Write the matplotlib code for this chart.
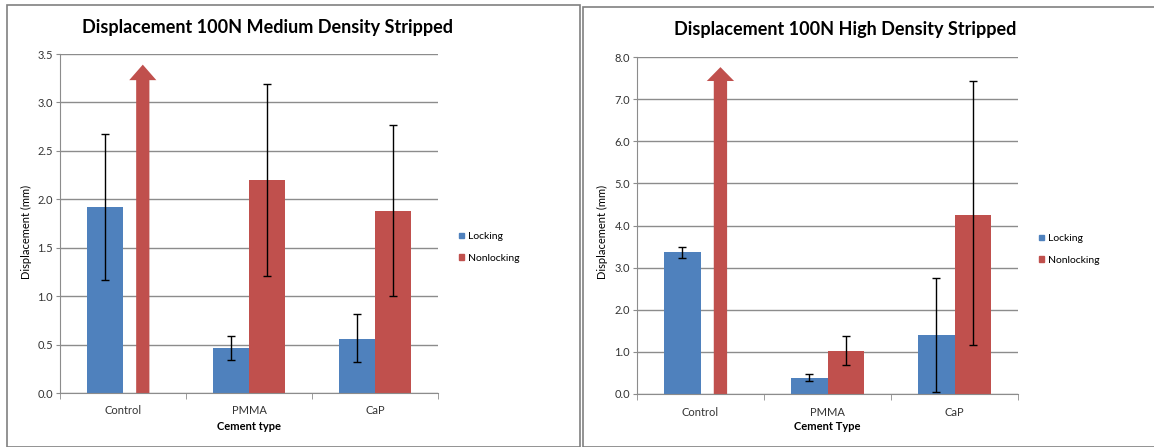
import matplotlib.pyplot as plt
import numpy as np
from matplotlib.patches import FancyArrow, Rectangle, Patch

plt.rcParams['font.family'] = ['Lato', 'DejaVu Sans']

# data
categories = ['Control', 'PMMA', 'CaP']
series = ['Locking', 'Nonlocking']

med_locking = [1.92, 0.46, 0.56]
med_locking_lo = [1.17, 0.34, 0.32]
med_locking_hi = [2.67, 0.59, 0.82]
med_nonlocking = [np.nan, 2.20, 1.88]
med_nonlocking_lo = [np.nan, 1.21, 1.00]
med_nonlocking_hi = [np.nan, 3.19, 2.77]

high_locking = [3.36, 0.38, 1.39]
high_locking_lo = [3.24, 0.31, 0.04]
high_locking_hi = [3.50, 0.47, 2.75]
high_nonlocking = [np.nan, 1.03, 4.26]
high_nonlocking_lo = [np.nan, 0.68, 1.16]
high_nonlocking_hi = [np.nan, 1.38, 7.42]

# off-scale control nonlocking arrows: tip value, head base value
arrow_tip = [3.39, 7.76]
arrow_base = [3.23, 7.43]

blue = '#4F81BD'
red = '#C0504D'
grid_c = '#8C8C8C'

fig = plt.figure(figsize=(11.54, 4.47), dpi=100)
W, H = 1154, 447


def box(x0, y0, x1, y1):
    return [x0 / W, 1 - y1 / H, (x1 - x0) / W, (y1 - y0) / H]


# panel borders
fig.patches.append(Rectangle((7 / W, 0), 573 / W, 1 - 5 / H, transform=fig.transFigure,
                             fill=False, edgecolor='#808080', lw=1.2))
fig.patches.append(Rectangle((583 / W, 0), 575 / W, 1 - 7 / H, transform=fig.transFigure,
                             fill=False, edgecolor='#808080', lw=1.2))


def panel(rect, title, xlabel, ymax, ystep, fmt, loc, loc_lo, loc_hi,
          non, non_lo, non_hi, tip, base, title_x, title_y, leg_x, leg_y,
          ylab_x, xlab_y):
    ax = fig.add_axes(box(*rect))
    x = np.arange(len(categories))
    bw = 0.286
    loc = np.array(loc)
    non = np.array(non)
    ax.bar(x - bw / 2, loc, bw, color=blue, zorder=2)
    ax.bar(x + bw / 2, non, bw, color=red, zorder=2)
    ek = dict(fmt='none', ecolor='black', elinewidth=1, capsize=3, capthick=1, zorder=3)
    ax.errorbar(x - bw / 2, loc, yerr=[loc - np.array(loc_lo), np.array(loc_hi) - loc], **ek)
    ax.errorbar(x + bw / 2, non, yerr=[non - np.array(non_lo), np.array(non_hi) - non], **ek)
    ax.add_patch(FancyArrow(0.157, 0, 0, tip, width=0.105, head_width=0.215,
                            head_length=tip - base, length_includes_head=True,
                            color=red, lw=0, zorder=2))
    ax.set_xlim(-0.5, 2.5)
    ax.set_ylim(0, ymax)
    ax.set_yticks(np.arange(0, ymax + ystep / 2, ystep))
    ax.yaxis.set_major_formatter(plt.FuncFormatter(lambda v, p: fmt.format(v)))
    ax.set_xticks(x)
    ax.set_xticklabels(categories)
    ax.set_xticks([-0.5, 0.5, 1.5, 2.5], minor=True)
    ax.tick_params(axis='x', which='major', length=0, labelsize=8, pad=9, colors='#333333')
    ax.tick_params(axis='x', which='minor', length=4, color=grid_c, direction='out')
    ax.tick_params(axis='y', length=3, color=grid_c, labelsize=8, labelcolor='#333333', pad=2)
    ax.grid(axis='y', color=grid_c, lw=1, zorder=0)
    for s in ['top', 'right']:
        ax.spines[s].set_visible(False)
    for s in ['left', 'bottom']:
        ax.spines[s].set_color(grid_c)
    fig.text(title_x / W, 1 - title_y / H, title, ha='center', va='center',
             fontsize=13, fontweight='bold')
    fig.text(ylab_x / W, 1 - 232 / H, 'Displacement (mm)', rotation=90,
             ha='center', va='center', fontsize=8)
    fig.text((rect[0] + rect[2]) / 2 / W, 1 - xlab_y / H, xlabel, ha='center',
             va='center', fontsize=8, fontweight='bold')
    handles = [Patch(color=blue), Patch(color=red)]
    fig.legend(handles, series, loc='upper left',
               bbox_to_anchor=(leg_x / W, 1 - leg_y / H), frameon=False,
               fontsize=7.5, handlelength=0.5, handleheight=0.5,
               handletextpad=0.35, labelspacing=1.2, borderpad=0)


panel((60, 54, 438, 393), 'Displacement 100N Medium Density Stripped', 'Cement type',
      3.5, 0.5, '{:.1f}', med_locking, med_locking_lo, med_locking_hi,
      med_nonlocking, med_nonlocking_lo, med_nonlocking_hi,
      arrow_tip[0], arrow_base[0], 267, 28, 454, 227, 26, 427)
panel((637, 57, 1018, 394), 'Displacement 100N High Density Stripped', 'Cement Type',
      8.0, 1.0, '{:.1f}', high_locking, high_locking_lo, high_locking_hi,
      high_nonlocking, high_nonlocking_lo, high_nonlocking_hi,
      arrow_tip[1], arrow_base[1], 845, 30, 1034, 229, 602, 427)

fig.savefig('out.png', dpi=100)
